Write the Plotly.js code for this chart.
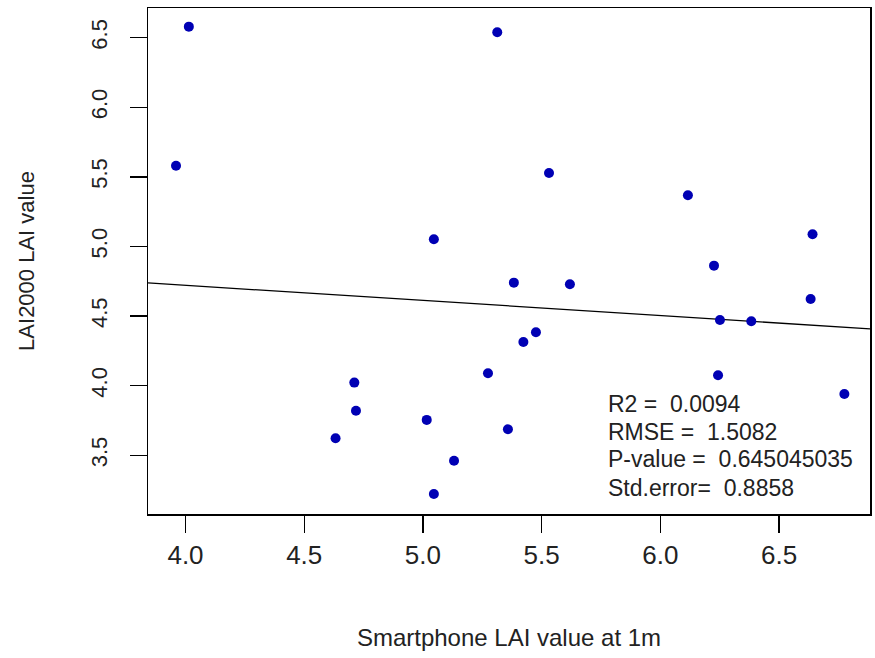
<!DOCTYPE html>
<html>
<head>
<meta charset="utf-8">
<script src="https://cdn.plot.ly/plotly-3.0.1.min.js"></script>
<style>
html,body{margin:0;padding:0;background:#fff;}
#chart{width:875px;height:658px;}
</style>
</head>
<body>
<div id="chart"></div>
<script>
// Smartphone LAI value at 1m (x) vs LAI2000 LAI value (y)
const smartphoneLAI = [4.014, 3.960, 5.046, 5.313, 5.531, 6.116, 6.641, 6.226, 5.383, 5.619, 6.633, 6.251, 6.383, 5.476, 5.423, 5.274, 6.243, 6.775, 5.358, 5.131, 4.711, 4.718, 4.632, 5.016, 5.046];
const lai2000LAI   = [6.579, 5.580, 5.052, 6.539, 5.528, 5.368, 5.088, 4.862, 4.740, 4.728, 4.623, 4.472, 4.463, 4.384, 4.314, 4.089, 4.075, 3.940, 3.687, 3.461, 4.022, 3.820, 3.622, 3.754, 3.222];
const xTicks = [4.0, 4.5, 5.0, 5.5, 6.0, 6.5];
const yTicks = [3.5, 4.0, 4.5, 5.0, 5.5, 6.0, 6.5];
const statLines = ["R2 =  0.0094", "RMSE =  1.5082", "P-value =  0.645045035", "Std.error=  0.8858"];
const statY = [3.868, 3.669, 3.473, 3.267];
const xRange = [3.842, 6.883];
const yRange = [3.078, 6.713];

// ordinary least-squares fit (abline)
const n = smartphoneLAI.length;
const mx = smartphoneLAI.reduce((a, b) => a + b, 0) / n;
const my = lai2000LAI.reduce((a, b) => a + b, 0) / n;
let sxy = 0, sxx = 0;
for (let i = 0; i < n; i++) {
  sxy += (smartphoneLAI[i] - mx) * (lai2000LAI[i] - my);
  sxx += (smartphoneLAI[i] - mx) * (smartphoneLAI[i] - mx);
}
const slope = sxy / sxx;
const intercept = my - slope * mx;
const fitX = xRange.slice();
const fitY = fitX.map(v => intercept + slope * v);

const font = "Liberation Sans, Arial, sans-serif";

const traces = [
  {
    x: fitX, y: fitY, type: 'scatter', mode: 'lines',
    line: {color: '#000000', width: 1.3}, hoverinfo: 'skip', showlegend: false
  },
  {
    x: smartphoneLAI, y: lai2000LAI, type: 'scatter', mode: 'markers',
    marker: {color: '#0000B4', size: 10}, showlegend: false
  }
];

const annotations = statLines.map((t, i) => ({
  x: 5.771, y: statY[i], xref: 'x', yref: 'y', text: t, showarrow: false,
  xanchor: 'left', yanchor: 'middle',
  font: {family: font, size: 23, color: '#222222'}
}));

const layout = {
  width: 875, height: 658,
  paper_bgcolor: '#ffffff', plot_bgcolor: '#ffffff',
  margin: {l: 148, r: 5, t: 8, b: 144},
  showlegend: false,
  xaxis: {
    range: xRange, autorange: false,
    tickmode: 'array', tickvals: xTicks, ticktext: xTicks.map(v => v.toFixed(1)),
    ticks: 'outside', ticklen: 17, tickwidth: 1.3, tickcolor: '#000',
    showline: true, linecolor: '#000', linewidth: 1.5, mirror: true,
    showgrid: false, zeroline: false,
    tickfont: {family: font, size: 26, color: '#222222'},
    title: {text: 'Smartphone LAI value at 1m', font: {family: font, size: 24, color: '#222222'}, standoff: 60}
  },
  yaxis: {
    range: yRange, autorange: false,
    tickmode: 'array', tickvals: yTicks, ticktext: yTicks.map(v => v.toFixed(1)),
    ticks: 'outside', ticklen: 17, tickwidth: 1.3, tickcolor: '#000',
    showline: true, linecolor: '#000', linewidth: 1.5, mirror: true,
    showgrid: false, zeroline: false,
    tickangle: -90, ticklabelstandoff: 14,
    tickfont: {family: font, size: 22, color: '#222222'},
    title: {text: 'LAI2000 LAI value', font: {family: font, size: 22, color: '#222222'}, standoff: 46}
  },
  annotations: annotations
};

Plotly.newPlot('chart', traces, layout, {displayModeBar: false, staticPlot: true});
</script>
</body>
</html>
